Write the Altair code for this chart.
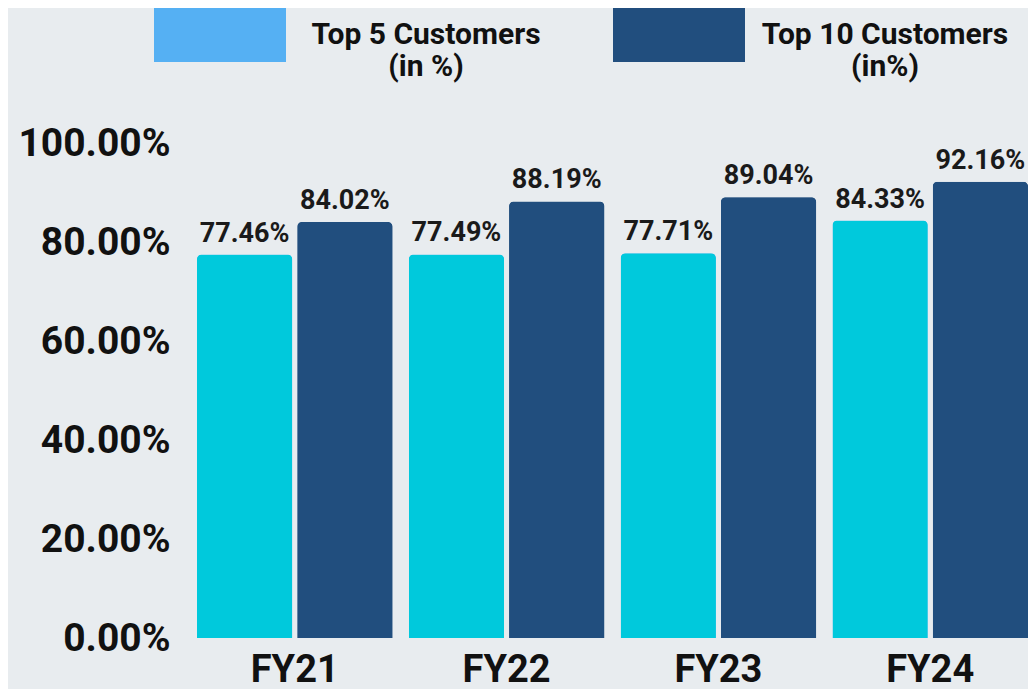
import altair as alt
import pandas as pd

years = ["FY21", "FY22", "FY23", "FY24"]
series = ["Top 5 Customers (in %)", "Top 10 Customers (in%)"]
top5 = [77.46, 77.49, 77.71, 84.33]
top10 = [84.02, 88.19, 89.04, 92.16]
y_ticks = [0, 20, 40, 60, 80, 100]
bar_colors = ["#00c9dc", "#214e7e"]
legend_colors = ["#55b0f3", "#214e7e"]

rows = []
for i, fy in enumerate(years):
    rows.append({"year": fy, "series": series[0], "value": top5[i]})
    rows.append({"year": fy, "series": series[1], "value": top10[i]})
df = pd.DataFrame(rows)

AXIS_FONT = "Roboto"
TEXT_FONT = "Roboto"

x = alt.X(
    "year:N", sort=years, title=None,
    scale=alt.Scale(paddingInner=0.077, paddingOuter=0),
    axis=alt.Axis(labelFont=AXIS_FONT, labelFontSize=38, labelFontWeight="bold",
                  labelColor="#111111", labelAngle=0, labelPadding=43,
                  labelBaseline="alphabetic", ticks=False, domain=False, grid=False),
)
xo = alt.XOffset("series:N", sort=series, scale=alt.Scale(paddingInner=0.05, paddingOuter=0))
y = alt.Y(
    "value:Q", title=None,
    scale=alt.Scale(domain=[0, 100], nice=False),
    axis=alt.Axis(values=y_ticks, labelExpr="format(datum.value, '.2f') + '%'",
                  labelFont=AXIS_FONT, labelFontSize=39, labelFontWeight="bold",
                  labelColor="#111111", labelPadding=27, ticks=False, domain=False,
                  grid=False),
)

label_expr = ("[slice(datum.label, 0, indexof(datum.label, ' (')), "
              "slice(datum.label, indexof(datum.label, '('))]")

# bottom layer: same bars, coloured with the legend swatch colours (drives the legend)
legend_bars = alt.Chart(df).mark_bar(cornerRadiusTopLeft=5, cornerRadiusTopRight=5).encode(
    x=x, xOffset=xo, y=y,
    fill=alt.Fill(
        "series:N", sort=series,
        scale=alt.Scale(domain=series, range=legend_colors),
        legend=alt.Legend(
            title=None, orient="none", legendX=-43, legendY=-174, direction="horizontal",
            symbolType="M-1,-0.409H1V0.409H-1Z", symbolSize=17424, symbolStrokeWidth=0,
            symbolOpacity=1, labelExpr=label_expr, labelFont=TEXT_FONT, labelFontSize=30,
            labelFontWeight="bold", labelColor="#111111", labelAlign="center",
            labelOffset=140, labelLimit=600, columnPadding=72, padding=0,
        ),
    ),
)

bars = alt.Chart(df).mark_bar(cornerRadiusTopLeft=5, cornerRadiusTopRight=5).encode(
    x=x, xOffset=xo, y=y,
    color=alt.Color("series:N", sort=series,
                    scale=alt.Scale(domain=series, range=bar_colors), legend=None),
)

texts = alt.Chart(df).transform_calculate(
    label="format(datum.value, '.2f') + '%'"
).mark_text(
    baseline="alphabetic", dy=-13, font=TEXT_FONT, fontSize=27, fontWeight="bold",
    color="#1a1a1a"
).encode(x=alt.X("year:N", sort=years), xOffset=alt.XOffset("series:N", sort=series),
         y="value:Q", text="label:N")

chart = alt.layer(legend_bars, bars, texts).properties(
    width=831, height=495,
    padding={"left": 189, "top": 135, "right": 0, "bottom": 51},
    autosize=alt.AutoSizeParams(type="none"),
    background="#e8ecef",
).configure_view(stroke=None)

chart.save("out.html", embed_options={"renderer": "svg", "actions": False})
